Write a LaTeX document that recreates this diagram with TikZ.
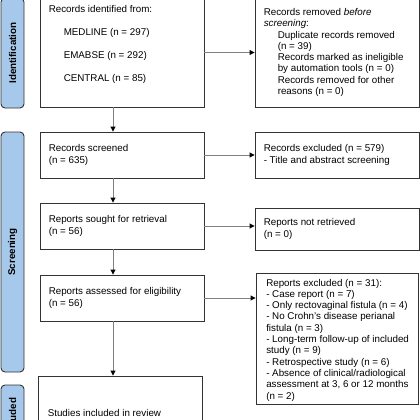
\documentclass[tikz,border=0pt]{standalone}
\usepackage{fontspec}
\setmainfont{Liberation Sans}
\usetikzlibrary{arrows.meta}
\definecolor{tabblue}{HTML}{A6C8EA}
\definecolor{edgegray}{HTML}{333333}
\definecolor{arrline}{HTML}{808080}
\begin{document}
\begin{tikzpicture}[x=1pt,y=-1pt,
  font=\fontsize{9.8}{11.3}\selectfont,
  box/.style={draw=edgegray, line width=0.9pt, minimum width=164pt, inner sep=0pt},
  txt/.style={align=left, inner sep=0pt, anchor=west},
  tab/.style={draw=edgegray, fill=tabblue, rounded corners=4pt, line width=0.9pt, minimum width=23pt, inner sep=0pt},
  tablabel/.style={rotate=90, inner sep=0pt, font=\fontsize{9.8}{11.3}\selectfont\bfseries},
  arr/.style={draw=arrline, line width=0.9pt, -{Triangle[length=5pt,width=5pt,color=black]}}]
\useasboundingbox (0,0) rectangle (420,420);
\clip (0,0) rectangle (420,420);

% phase tabs
\node[tab, minimum height=110pt] (tab1) at (12.5,53) {};
\node[tablabel] (lab1) at (tab1.center) {Identification};
\node[tab, minimum height=240pt] (tab2) at (12.5,252) {};
\node[tablabel] (lab2) at (tab2.center) {Screening};
\node[tab, minimum height=66pt] (tab3) at (12.5,418) {};
\node[tablabel] (lab3) at (tab3.center) {Included};

% left column
\node[box, minimum height=125pt] (b1) at (122,44.5) {};
\node[txt] (b1t) at ([xshift=9pt]b1.west) {Records identified from:\\[11.7pt]
  \hspace*{15pt}MEDLINE (n = 297)\\[11.7pt]
  \hspace*{15pt}EMABSE (n = 292)\\[11.7pt]
  \hspace*{15pt}CENTRAL (n = 85)};

\node[box, minimum height=46pt] (b2) at (122,155) {};
\node[txt] (b2t) at ([xshift=9pt]b2.west) {Records screened\\[1pt](n = 635)};

\node[box, minimum height=46pt] (b3) at (122,226) {};
\node[txt] (b3t) at ([xshift=9pt]b3.west) {Reports sought for retrieval\\(n = 56)};

\node[box, minimum height=46pt] (b4) at (122,298) {};
\node[txt] (b4t) at ([xshift=9pt]b4.west) {Reports assessed for eligibility\\(n = 56)};

\node[box, minimum height=74pt] (b5) at (120,413) {};
\node[txt] (b5t) at ([xshift=10pt]b5.west) {Studies included in review};

% right column
\node[box, minimum height=109pt] (r1) at (337,52.5) {};
\node[txt] (r1t) at ([xshift=9pt]r1.west) {Records removed \textit{before}\\
  \textit{screening}:\\
  \hspace*{14pt}Duplicate records removed\\
  \hspace*{14pt}(n = 39)\\
  \hspace*{14pt}Records marked as ineligible\\
  \hspace*{14pt}by automation tools (n = 0)\\
  \hspace*{14pt}Records removed for other\\
  \hspace*{14pt}reasons (n = 0)};

\node[box, minimum height=46pt] (r2) at (337,155) {};
\node[txt] (r2t) at ([xshift=9pt]r2.west) {Records excluded (n = 579)\\- Title and abstract screening};

\node[box, minimum height=42pt] (r3) at (337,229) {};
\node[txt] (r3t) at ([xshift=9pt]r3.west) {Reports not retrieved\\(n = 0)};

\node[box, minimum width=162pt, minimum height=131pt] (r4) at (337,338.5) {};
\node[txt] (r4t) at ([xshift=10.5pt,yshift=-1.5pt]r4.west) {Reports excluded (n = 31):\\
  - Case report (n = 7)\\
  - Only rectovaginal fistula (n = 4)\\
  - No Crohn's disease perianal\\
  fistula (n = 3)\\
  - Long-term follow-up of included\\
  study (n = 9)\\
  - Retrospective study (n = 6)\\
  - Absence of clinical/radiological\\
  assessment at 3, 6 or 12 months\\
  (n = 2)};

% connectors
\draw[arr] (b1.east |- r1.west) -- (r1.west);
\draw[arr] (b2.east) -- (b2.east -| r2.west);
\draw[arr] (b3.east) -- (b3.east -| r3.west);
\draw[arr] (b4.east) -- (b4.east -| r4.west);
\draw[arr] ([xshift=-9pt]b1.south) -- ([xshift=-9pt]b2.north);
\draw[arr] ([xshift=-9pt]b2.south) -- ([xshift=-9pt]b3.north);
\draw[arr] ([xshift=-9pt]b3.south) -- ([xshift=-9pt]b4.north);
\draw[arr] ([xshift=-9pt]b4.south) -- ([xshift=-9pt]b4.south |- b5.north);
\end{tikzpicture}
\end{document}
